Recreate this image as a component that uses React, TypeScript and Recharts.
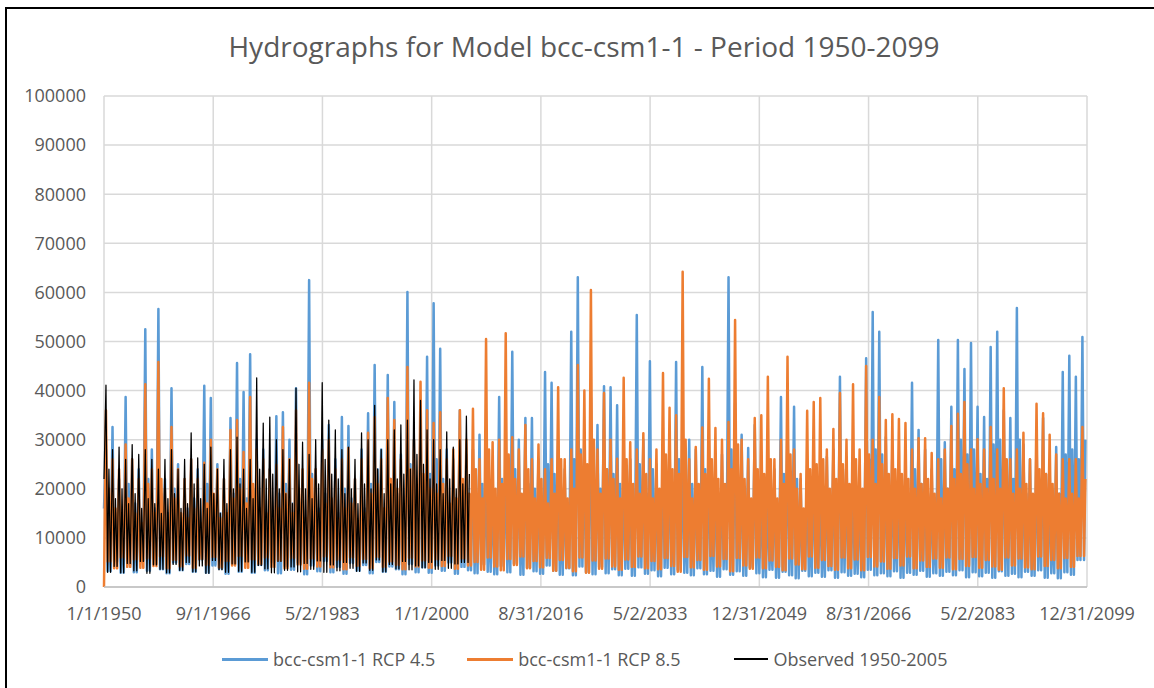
import { LineChart, Line, XAxis, YAxis, CartesianGrid } from 'recharts';

// yearly readings off the hydrograph (cfs), 1950..2099
const START_YEAR = 1950;

const RCP45_PEAK = [
  28000, 32600, 22000, 38700, 26000, 24000, 52500, 28000, 56600, 22000,
  40500, 25000, 22000, 26000, 24000, 41000, 38500, 25000, 22000, 34400,
  45600, 39700, 47400, 30000, 28000, 24000, 34800, 35600, 30000, 40500,
  22000, 62500, 24000, 30000, 33000, 26000, 34600, 32800, 22000, 28000,
  35400, 45200, 28000, 43200, 37700, 27000, 60100, 30000, 35000, 46900,
  57800, 48500, 28000, 26000, 36000, 27000, 28000, 31000, 25000, 22000,
  38700, 28000, 47900, 30000, 34400, 34400, 26000, 43800, 41600, 30000,
  24000, 52000, 63100, 30000, 38600, 33000, 40900, 40700, 37000, 25000,
  26000, 55400, 30000, 46000, 25000, 28000, 30000, 45800, 30000, 30000,
  28000, 44800, 30000, 26000, 27000, 63100, 37500, 31000, 28300, 33000,
  22000, 20000, 24000, 38700, 35000, 36700, 22000, 24000, 26000, 22000,
  26500, 28000, 42800, 26500, 24000, 22000, 46600, 56000, 52000, 30500,
  28000, 24000, 26000, 41600, 32000, 28000, 24000, 50300, 29500, 36700,
  50300, 44400, 49700, 36700, 34600, 48900, 52000, 36000, 34400, 56800,
  29000, 26000, 30300, 34400, 24000, 28500, 43800, 47100, 42800, 50900,
];

const RCP45_SECOND = [
  18000, 15000, 14000, 21000, 17000, 13000, 22000, 16000, 19000, 15000,
  20000, 14000, 16000, 18000, 13000, 21000, 17000, 15000, 14000, 19000,
  22000, 18000, 20000, 16000, 15000, 13000, 19000, 21000, 17000, 18000,
  14000, 23000, 16000, 19000, 17000, 15000, 20000, 18000, 13000, 16000,
  21000, 24000, 15000, 22000, 19000, 16000, 25000, 17000, 20000, 23000,
  26000, 22000, 16000, 18000, 20000, 15000, 19000, 21000, 17000, 14000,
  22000, 18000, 24000, 17000, 21000, 20000, 16000, 25000, 23000, 18000,
  15000, 26000, 28000, 19000, 22000, 20000, 24000, 23000, 21000, 16000,
  17000, 25000, 19000, 24000, 15000, 18000, 20000, 26000, 18000, 21000,
  17000, 24000, 19000, 16000, 18000, 28000, 22000, 20000, 17000, 21000,
  14000, 13000, 16000, 23000, 21000, 22000, 15000, 16000, 17000, 14000,
  18000, 19000, 24000, 17000, 15000, 14000, 26000, 28000, 27000, 20000,
  18000, 16000, 17000, 24000, 21000, 19000, 15000, 26000, 20000, 24000,
  30000, 27000, 28000, 23000, 22000, 29000, 30000, 24000, 22000, 30000,
  19000, 17000, 21000, 23000, 15000, 19000, 27000, 28000, 26000, 30000,
];

const RCP45_LOW = [
  16000, 3200, 5200, 2900, 4600, 3000, 5400, 3300, 4800, 3600,
  2800, 5000, 3400, 4700, 3100, 5600, 2900, 4400, 3700, 2700,
  4800, 3100, 5200, 2900, 4500, 3400, 5100, 2800, 4300, 3500,
  5000, 2600, 4400, 3200, 5300, 3000, 4100, 2700, 4900, 3300,
  4500, 2800, 5100, 3100, 4200, 3600, 2600, 4700, 3000, 4000,
  2900, 4400, 3300, 5000, 2700, 4100, 3400, 2800, 4600, 3100,
  2600, 4300, 3000, 4800, 2500, 3900, 3200, 2700, 4400, 3300,
  2500, 3800, 2400, 4200, 3000, 2600, 4100, 2800, 3600, 2400,
  3700, 2300, 4000, 2700, 3400, 2200, 3900, 2600, 3500, 2900,
  2400, 3800, 2600, 3300, 2100, 3600, 2500, 3200, 2300, 4000,
  2800, 2000, 3500, 1900, 3100, 2400, 1800, 3300, 2200, 2900,
  2100, 3400, 1900, 3000, 2300, 2700, 2000, 3500, 2400, 2800,
  2200, 3200, 1900, 2900, 2500, 3300, 2100, 2800, 2300, 3100,
  2400, 3400, 2000, 3000, 2200, 2900, 1900, 3200, 2300, 2700,
  2000, 3100, 2300, 3400, 1900, 2800, 1800, 3000, 2500, 5500,
];

const RCP85_PEAK = [
  36000, 26000, 24000, 29000, 26000, 22000, 41300, 24000, 45800, 20000,
  32600, 24000, 22000, 26000, 22000, 25300, 30000, 24000, 22000, 32000,
  34000, 27500, 38700, 28000, 26000, 24000, 24900, 32600, 26000, 36000,
  24000, 41600, 24000, 28000, 30000, 24000, 26000, 28300, 22000, 26000,
  31400, 34600, 26000, 38500, 34000, 26000, 44800, 30000, 41800, 36000,
  33400, 35600, 26000, 28000, 36000, 30000, 36300, 26000, 50500, 29500,
  30000, 51700, 30500, 28000, 33000, 26000, 29000, 24000, 26000, 40700,
  26000, 28000, 45200, 40000, 60500, 28000, 39500, 30000, 26100, 42600,
  29500, 28000, 31300, 26000, 28000, 43600, 36500, 35000, 64200, 26000,
  28500, 32500, 42400, 32400, 30000, 33600, 54400, 30000, 26000, 34400,
  35000, 42800, 26000, 30000, 46900, 28000, 23000, 35900, 37700, 38500,
  28000, 32200, 39500, 30000, 41300, 28000, 45000, 30000, 38700, 34000,
  35200, 34200, 33400, 28000, 30300, 30300, 27300, 26000, 28000, 32800,
  35300, 37700, 28000, 30100, 28000, 32600, 28000, 40500, 26000, 28000,
  31400, 26000, 37300, 35400, 31000, 27000, 26000, 26000, 26000, 32600,
];

const RCP85_SECOND = [
  20000, 16000, 14000, 18000, 15000, 13000, 21000, 15000, 22000, 13000,
  18000, 15000, 14000, 16000, 13000, 17000, 19000, 14000, 15000, 18000,
  20000, 17000, 21000, 16000, 15000, 14000, 16000, 19000, 15000, 20000,
  14000, 22000, 15000, 17000, 18000, 14000, 16000, 17000, 13000, 15000,
  19000, 21000, 16000, 22000, 20000, 15000, 24000, 18000, 23000, 20000,
  19000, 21000, 17000, 18000, 22000, 19000, 24000, 18000, 28000, 20000,
  21000, 27000, 22000, 19000, 24000, 18000, 22000, 17000, 19000, 26000,
  18000, 20000, 27000, 25000, 30000, 19000, 24000, 22000, 18000, 26000,
  21000, 19000, 23000, 18000, 20000, 27000, 24000, 23000, 30000, 18000,
  21000, 23000, 26000, 22000, 21000, 24000, 29000, 22000, 18000, 24000,
  23000, 26000, 18000, 21000, 27000, 20000, 16000, 24000, 25000, 26000,
  20000, 22000, 25000, 21000, 26000, 20000, 27000, 21000, 25000, 23000,
  24000, 23000, 22000, 20000, 21000, 22000, 19000, 18000, 20000, 22000,
  23000, 25000, 20000, 21000, 20000, 22000, 20000, 26000, 19000, 20000,
  21000, 19000, 24000, 23000, 21000, 19000, 18000, 19000, 18000, 22000,
];

const RCP85_LOW = [
  0, 5200, 3800, 6000, 4100, 5600, 3900, 5800, 4300, 6200,
  3800, 5500, 4200, 6400, 3900, 5700, 4500, 6100, 4000, 5300,
  4400, 6300, 3900, 5600, 4700, 6000, 4100, 5400, 3800, 5900,
  4600, 3700, 5800, 4200, 6200, 4000, 5500, 3600, 6000, 4300,
  5700, 3800, 6100, 4100, 5200, 4500, 3600, 5900, 4200, 5400,
  3900, 5600, 4300, 6300, 3700, 5800, 4400, 5100, 3500, 6000,
  4200, 3400, 5700, 4500, 6200, 3800, 5300, 4000, 5900, 3300,
  5500, 3900, 3200, 6000, 2900, 5400, 3700, 5800, 4200, 3500,
  5600, 4100, 6200, 3800, 5300, 3600, 5900, 4300, 3100, 6100,
  4000, 5500, 3500, 6300, 4200, 5700, 3200, 5900, 4400, 3700,
  6000, 3800, 5400, 4100, 3400, 5800, 4600, 3600, 6200, 3900,
  5500, 4300, 3500, 6000, 3800, 5600, 3400, 6100, 4200, 5200,
  3700, 5900, 4400, 6200, 3800, 5400, 4100, 5800, 3900, 6000,
  3600, 5700, 4300, 6100, 3900, 5500, 4200, 3500, 6000, 4400,
  5800, 4000, 3600, 6200, 4300, 5500, 3800, 5900, 4100, 6300,
];

// observed record, 1950..2005
const OBS_PEAK = [
  41100, 28000, 28500, 26000, 29000, 27000, 28000, 26000, 24000, 26000,
  28000, 24000, 26000, 31400, 26300, 25000, 28500, 24000, 26000, 28000,
  30500, 24000, 26000, 42600, 33400, 34600, 30000, 28000, 26000, 40500,
  29500, 27000, 30000, 41600, 34000, 32000, 28000, 28500, 26000, 31400,
  30000, 37000, 28000, 30000, 32000, 33000, 34000, 42200, 38000, 32000,
  30000, 28000, 31600, 28500, 30000, 34800,
];

const OBS_SECOND = [
  24000, 18000, 20000, 17000, 19000, 16000, 18000, 17000, 15000, 18000,
  19000, 16000, 17000, 21000, 18000, 16000, 19000, 15000, 17000, 20000,
  21000, 16000, 18000, 24000, 22000, 23000, 20000, 19000, 17000, 25000,
  20000, 18000, 21000, 26000, 23000, 22000, 19000, 20000, 17000, 21000,
  20000, 24000, 19000, 21000, 22000, 23000, 24000, 27000, 25000, 22000,
  21000, 19000, 22000, 20000, 21000, 23000,
];

const OBS_LOW = [
  22000, 3000, 4200, 2900, 4800, 3300, 5200, 2800, 4500, 3600,
  2900, 4600, 3400, 5000, 3100, 4300, 2800, 5400, 3500, 3000,
  4700, 3200, 5100, 3000, 4400, 3700, 2900, 5200, 3400, 4100,
  3100, 4800, 3600, 5300, 3000, 4500, 3300, 5000, 3800, 3200,
  4900, 3400, 5500, 3100, 4600, 3700, 5200, 3500, 4300, 3900,
  5000, 3600, 5400, 3800, 4700, 5000,
];

const X_TICKS = [1950, 1966.667, 1983.333, 2000, 2016.667, 2033.333, 2050, 2066.667, 2083.333, 2100];
const X_LABELS = ['1/1/1950', '9/1/1966', '5/2/1983', '1/1/2000', '8/31/2016', '5/2/2033', '12/31/2049', '8/31/2066', '5/2/2083', '12/31/2099'];
const Y_TICKS = [0, 10000, 20000, 30000, 40000, 50000, 60000, 70000, 80000, 90000, 100000];

const SERIES = [
  { key: 'rcp45', name: 'bcc-csm1-1 RCP 4.5', color: '#5B9BD5', width: 2.5 },
  { key: 'rcp85', name: 'bcc-csm1-1 RCP 8.5', color: '#ED7D31', width: 2.5 },
  { key: 'obs', name: 'Observed 1950-2005', color: '#000000', width: 1.25 },
];

// where within each year the low, main peak, mid dip and second peak fall
const OFFSETS = [0, 0.3, 0.55, 0.75];

function yearPoints(peak: number[], second: number[], low: number[], i: number) {
  const next = Math.min(i + 1, low.length - 1);
  return [low[i], peak[i], low[next], second[i]];
}

const data = RCP45_PEAK.flatMap((_, i) => {
  const r45 = yearPoints(RCP45_PEAK, RCP45_SECOND, RCP45_LOW, i);
  const r85 = yearPoints(RCP85_PEAK, RCP85_SECOND, RCP85_LOW, i);
  const obs = i < OBS_PEAK.length ? yearPoints(OBS_PEAK, OBS_SECOND, OBS_LOW, i) : null;
  return OFFSETS.map((o, k) => ({
    t: START_YEAR + i + o,
    rcp45: r45[k],
    rcp85: r85[k],
    obs: obs ? obs[k] : undefined,
  }));
});

const FONT = '"Open Sans", "Noto Sans", sans-serif';
const TEXT = '#595959';

export default function App() {
  return (
    <div style={{ position: 'absolute', left: 0, top: 0, width: 1154, height: 688, background: '#fff', overflow: 'hidden', fontFamily: FONT }}>
      <div style={{ position: 'absolute', left: 5, top: 7, width: 1160, height: 700, borderLeft: '2px solid #000', borderTop: '2px solid #000' }} />
      <div style={{ position: 'absolute', left: 0, width: 1168, top: 32, textAlign: 'center', fontSize: 28, lineHeight: '28px', color: TEXT }}>
        Hydrographs for Model bcc-csm1-1 - Period 1950-2099
      </div>
      <div style={{ position: 'absolute', left: 0, top: 0 }}>
        <LineChart width={1154} height={688} data={data} margin={{ top: 96, right: 67, left: 0, bottom: 71 }}>
          <CartesianGrid stroke="#d9d9d9" strokeWidth={1.5} />
          <XAxis
            dataKey="t"
            type="number"
            domain={[1950, 2100]}
            ticks={X_TICKS}
            interval={0}
            tickFormatter={(_v, i) => X_LABELS[i]}
            tickLine={false}
            tickSize={0}
            tickMargin={20}
            height={30}
            axisLine={{ stroke: '#bfbfbf', strokeWidth: 1.5 }}
            tick={{ fill: TEXT, fontSize: 18, fontFamily: FONT }}
          />
          <YAxis
            type="number"
            domain={[0, 100000]}
            ticks={Y_TICKS}
            interval={0}
            width={104}
            axisLine={false}
            tickLine={false}
            tickSize={0}
            tickMargin={18}
            tick={{ fill: TEXT, fontSize: 18, fontFamily: FONT }}
          />
          {SERIES.map((s) => (
            <Line
              key={s.key}
              dataKey={s.key}
              name={s.name}
              type="linear"
              stroke={s.color}
              strokeWidth={s.width}
              strokeLinejoin="round"
              dot={false}
              activeDot={false}
              isAnimationActive={false}
            />
          ))}
        </LineChart>
      </div>
      <div style={{ position: 'absolute', left: 222, top: 648, display: 'flex', alignItems: 'center', fontSize: 18, color: TEXT, lineHeight: '22px' }}>
        {SERIES.map((s) => {
          const thin = s.key === 'obs';
          return (
            <div key={s.key} style={{ display: 'flex', alignItems: 'center', marginRight: 32, marginLeft: thin ? 22 : 0 }}>
              <span style={{ display: 'inline-block', width: thin ? 34 : 46, height: thin ? 1.5 : 3, background: s.color, marginRight: 5 }} />
              <span>{s.name}</span>
            </div>
          );
        })}
      </div>
    </div>
  );
}
